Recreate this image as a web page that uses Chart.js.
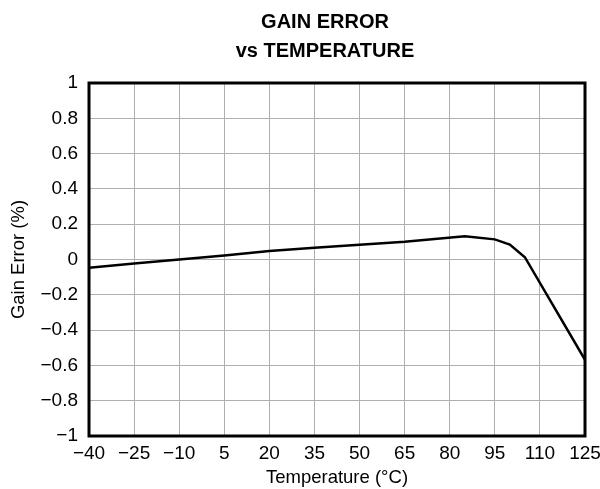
<!DOCTYPE html>
<html>
<head>
<meta charset="utf-8">
<script src="https://cdn.jsdelivr.net/npm/chart.js@4.4.0/dist/chart.umd.min.js"></script>
<style>
  html, body { margin: 0; padding: 0; background: #fff; }
  #wrap { position: relative; width: 600px; height: 489px; }
  #title {
    position: absolute; left: 0; top: 7px; width: 600px; box-sizing: border-box;
    padding-left: 50px; text-align: center;
    font: bold 20px "Liberation Sans", Arial, sans-serif; line-height: 29px; color: #000;
  }
  canvas { position: absolute; left: 0; top: 0; }
</style>
</head>
<body>
<div id="wrap">
  <canvas id="chart" width="600" height="489"></canvas>
  <div id="title">GAIN ERROR<br>vs TEMPERATURE</div>
</div>
<script>
// Data
const temperature = [-40, -25, -10, 5, 20, 35, 50, 65, 85, 95, 100, 105, 125];
const gainError = [-0.047, -0.023, 0, 0.023, 0.048, 0.066, 0.083, 0.1, 0.131, 0.114, 0.085, 0.013, -0.568];

// Tick labels
const xTicks = [-40, -25, -10, 5, 20, 35, 50, 65, 80, 95, 110, 125];
const yTicks = [-1, -0.8, -0.6, -0.4, -0.2, 0, 0.2, 0.4, 0.6, 0.8, 1];

const FONT = '"Liberation Sans", Arial, sans-serif';

function fmt(v) {
    const r = Math.round(v * 10) / 10;
    return String(r).replace('-', '\u2212');
}

// frame round the plot + rotated y title
const framePlugin = {
    id: 'frame',
    afterDraw(chart) {
        const { ctx, chartArea: a } = chart;
        ctx.save();
        ctx.strokeStyle = '#000';
        ctx.lineWidth = 3;
        ctx.strokeRect(a.left, a.top, a.right - a.left, a.bottom - a.top);

        ctx.translate(19, (a.top + a.bottom) / 2);
        ctx.rotate(-Math.PI / 2);
        ctx.fillStyle = '#000';
        ctx.font = '18.5px ' + FONT;
        ctx.textAlign = 'center';
        ctx.textBaseline = 'middle';
        ctx.fillText('Gain Error (%)', 0, 0);
        ctx.restore();
    }
};

new Chart(document.getElementById('chart'), {
    type: 'line',
    data: {
        datasets: [{
            data: temperature.map((t, i) => ({ x: t, y: gainError[i] })),
            borderColor: '#000',
            borderWidth: 2.5,
            pointRadius: 0,
            tension: 0,
            fill: false
        }]
    },
    options: {
        responsive: false,
        animation: false,
        layout: { padding: { top: 83, right: 0, bottom: 0, left: 0 } },
        plugins: {
            legend: { display: false },
            tooltip: { enabled: false }
        },
        scales: {
            x: {
                type: 'linear',
                min: -40,
                max: 125,
                afterBuildTicks: scale => { scale.ticks = xTicks.map(v => ({ value: v })); },
                afterFit: scale => {
                    scale.height = 53;
                    scale.paddingRight = 15;
                },
                grid: { color: '#b0b0b0', lineWidth: 1, drawTicks: false },
                border: { display: false },
                ticks: {
                    color: '#000',
                    padding: 6,
                    maxRotation: 0,
                    autoSkip: false,
                    font: { family: FONT, size: 19 },
                    callback: v => fmt(v)
                },
                title: {
                    display: true,
                    text: 'Temperature (°C)',
                    color: '#000',
                    padding: { top: 0, bottom: 0 },
                    font: { family: FONT, size: 18.5 }
                }
            },
            y: {
                min: -1,
                max: 1,
                afterBuildTicks: scale => { scale.ticks = yTicks.map(v => ({ value: v })); },
                afterFit: scale => { scale.width = 89; },
                grid: { color: '#b0b0b0', lineWidth: 1, drawTicks: false },
                border: { display: false },
                ticks: {
                    color: '#000',
                    padding: 11,
                    autoSkip: false,
                    font: { family: FONT, size: 19 },
                    callback: v => fmt(v)
                }
            }
        }
    },
    plugins: [framePlugin]
});
</script>
</body>
</html>
